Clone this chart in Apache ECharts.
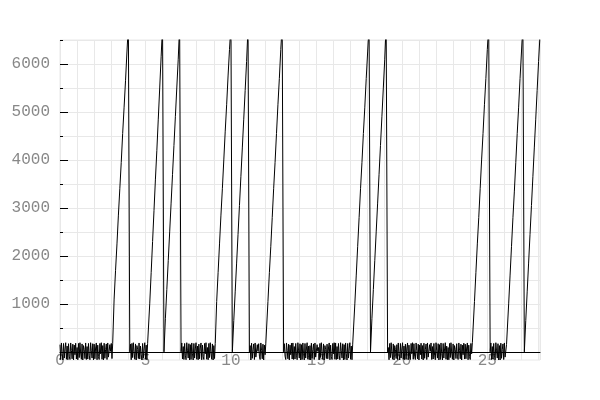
<!DOCTYPE html>
<html>
<head>
<meta charset="utf-8">
<script src="https://cdn.jsdelivr.net/npm/echarts@6.0.0/dist/echarts.min.js"></script>
<style>
  html, body { margin: 0; padding: 0; background: #fff; }
  #chart { width: 600px; height: 400px; }
</style>
</head>
<body>
<div id="chart"></div>
<script>
// noise is sampled twice as often as the ramps
const noiseStep = 1 / 24;
const rampStep = 1 / 12;

// noise stretches near zero
const noise1 = [
  150, -160, 185, -40, -170, 175, -130, 60, 190, -155, 120, -165,
  170, -90, -160, 185, 30, -145, 160, -170, 140, -60, 180, -150,
  90, -165, 175, -120, 190, -20, -155, 165, -170, 130, 50, -140,
  185, -160, 110, -150, 175, -70, -165, 190, 20, -130, 170, -170,
  160, -145, 80, 185, -165, 140, -100, -160, 175, -40, 190, -155,
  130, -170, 180, -135, 45, 165, -160, 185, -110, -150, 150, 10,
  175, -140
];
const noise2 = [
  0, 160, -165, 175, -120, 190, -20, -155, 165, -170, 130, 50, -140,
  185, -150, 120, -60, -170, 175, -130, 60, 190, -155, 140, -165, 170
];
const noise3 = [
  0, 185, -150, 110, -160, 175, -70, -165, 190, 20, -130, 170,
  -170, 150, -160, 185, -40, -170, 175, -130, 60, 190, -155, 120,
  -165, 160, -145, 80, 185, -165, 140, -100, -160, 175, -40, 190,
  -155, 90, -165, 175, -120, 190, -20, -155, 165, -170, 130, -140
];
const noise4 = [
  0, 130, -170, 180, -135, 45, 165, -160, 185, -110, -150, 150,
  10, 170, -90, -160, 185, 30, -145, 160, -170, 140, -60, 180
];
const noise5 = [
  0, 170, -90, -160, 185, 30, -145, 160, -170, 140, -60, 180,
  -150, 185, -160, 110, -150, 175, -70, -165, 190, 20, -130, 170,
  -170, 150, -160, 185, -40, -170, 175, -130, 60, 190, -155, 120,
  -165, 130, -170, 180, -135, 45, 165, -160, 185, -110, -150, 150,
  10, 90, -165, 175, -120, 190, -20, -155, 165, -170, 130, 50,
  -140, 160, -145, 80, 185, -165, 140, -100, -160, 175, -40, 190,
  -155, 185, -160, 110, -150, 175, -70, -165, 190, 20, -130, 170,
  -170, 150, -160, 185, -40, -170, 175, -130, 60, 190, -155, 120,
  -165, 160
];
const noise6 = [
  0, 90, -165, 175, -120, 190, -20, -155, 165, -170, 130, 50,
  -140, 150, -160, 185, -40, -170, 175, -130, 60, 190, -155, 120,
  -165, 160, -145, 80, 185, -165, 140, -100, -160, 175, -40, 190,
  -155, 170, -90, -160, 185, 30, -145, 160, -170, 140, -60, 180,
  -150, 130, -170, 180, -135, 45, 165, -160, 185, -110, -150, 150,
  10, 185, -160, 110, -150, 175, -70, -165, 190, 20, -130, 170,
  -170, 150, -160, 185, -40, -170, 175, -130, 60, 190, -155, 120,
  -165, 90, -165, 175, -120, 190, -20, -155, 165, -170, 130, 50,
  -140, 170, -90, -160, 185, 30, -145, 160, -170, 140, -60, 180,
  -150, 160, -145, 80, 185, -165, 140, -100, -160, 175, -40, 190
];
const noise7 = [
  0, 185, -160, 110, -150, 175, -70, -165, 190, 20, -130, 170,
  -170, 130, -170, 180, -135, 45, 165, -160, 185, -110, -150, 150
];

// ramps up past the top
const ramp1 = [180, 1100, 1700, 2250, 2850, 3400, 3950, 4550, 5100, 5650, 6250, 6800];
const ramp2 = [150, 1000, 1650, 2300, 2950, 3600, 4200, 4850, 5500, 6150, 6800];
const ramp3 = [0, 700, 1300, 1900, 2500, 3100, 3700, 4300, 4900, 5500, 6100, 6800];
const ramp4 = [170, 1050, 1650, 2250, 2850, 3400, 4000, 4600, 5150, 5750, 6300, 6800];
const ramp5 = [0, 650, 1250, 1850, 2450, 3050, 3650, 4250, 4850, 5450, 6050, 6750];
const ramp6 = [160, 1050, 1650, 2200, 2800, 3400, 3950, 4550, 5150, 5700, 6300, 6800];
const ramp7 = [150, 1000, 1600, 2200, 2800, 3400, 3950, 4550, 5100, 5700, 6250, 6800];
const ramp8 = [0, 700, 1300, 1900, 2500, 3100, 3700, 4300, 4900, 5500, 6100, 6800];
const ramp9 = [170, 1050, 1650, 2250, 2800, 3400, 4000, 4550, 5150, 5700, 6300, 6800];
const ramp10 = [160, 1000, 1600, 2200, 2800, 3350, 3950, 4550, 5100, 5700, 6250, 6800];
const ramp11 = [0, 650, 1250, 1850, 2450, 3050, 3650, 4250, 4850, 5450, 6050, 6600];

// axis ticks
const yLabelValues = [1000, 2000, 3000, 4000, 5000, 6000];
const yMinorValues = [0, 500, 1000, 1500, 2000, 2500, 3000, 3500, 4000, 4500, 5000, 5500, 6000, 6500];
const yMin = -170;
const yMax = 6500;

// order of the pieces along x
const segments = [
  [noise1, noiseStep], [ramp1, rampStep], [noise2, noiseStep], [ramp2, rampStep],
  [ramp3, rampStep], [noise3, noiseStep], [ramp4, rampStep], [ramp5, rampStep],
  [noise4, noiseStep], [ramp6, rampStep], [noise5, noiseStep], [ramp7, rampStep],
  [ramp8, rampStep], [noise6, noiseStep], [ramp9, rampStep], [noise7, noiseStep],
  [ramp10, rampStep], [ramp11, rampStep]
];
const points = [];
let x = 0;
segments.forEach(([values, step]) => {
  values.forEach(v => {
    points.push([x, v]);
    x += step;
  });
});

const chart = echarts.init(document.getElementById('chart'));
const labelFont = {
  color: '#888',
  fontFamily: '"Liberation Mono", monospace',
  fontSize: 16
};

chart.setOption({
  animation: false,
  backgroundColor: '#fff',
  grid: {
    left: 60,
    right: 60,
    top: 40,
    bottom: 40,
    show: true,
    borderColor: '#e8e8e8',
    borderWidth: 1
  },
  xAxis: {
    type: 'value',
    min: 0,
    max: 'dataMax',
    interval: 1,
    axisLine: { onZero: true, lineStyle: { color: '#000', width: 1 } },
    axisTick: { show: false },
    axisLabel: Object.assign({
      margin: -7,
      showMaxLabel: false,
      formatter: v => (v % 5 === 0 ? String(v) : '')
    }, labelFont),
    splitLine: { show: true, lineStyle: { color: '#e8e8e8', width: 1 } }
  },
  yAxis: [
    {
      type: 'value',
      min: yMin,
      max: yMax,
      axisLine: { show: false },
      axisTick: {
        show: true,
        inside: true,
        length: 8,
        customValues: yLabelValues,
        lineStyle: { color: '#000' }
      },
      axisLabel: Object.assign({
        margin: 10,
        customValues: yLabelValues,
        formatter: v => String(v)
      }, labelFont),
      splitLine: { show: false }
    },
    {
      // 500 steps: short ticks and grid lines
      type: 'value',
      position: 'left',
      min: yMin,
      max: yMax,
      axisLine: { show: false },
      axisTick: {
        show: true,
        inside: true,
        length: 3,
        customValues: yMinorValues,
        lineStyle: { color: '#000' }
      },
      axisLabel: { show: false },
      splitLine: { show: true, lineStyle: { color: '#e8e8e8', width: 1 } }
    }
  ],
  series: [
    {
      type: 'line',
      data: points,
      showSymbol: false,
      symbol: 'none',
      lineStyle: { color: '#000', width: 1 }
    }
  ]
});
</script>
</body>
</html>
